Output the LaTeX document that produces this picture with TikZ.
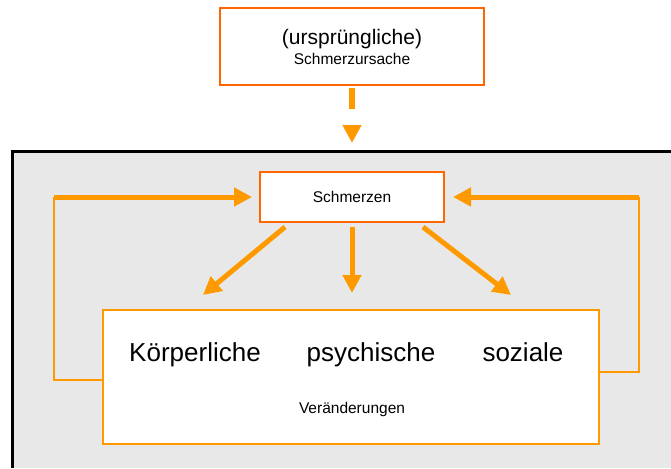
\documentclass[tikz,border=0pt]{standalone}
\usepackage{fontspec}
\setmainfont{Liberation Sans}
\usetikzlibrary{arrows.meta}

\definecolor{schmerzrot}{HTML}{FF6600}
\definecolor{pfeilorange}{HTML}{FF9900}
\definecolor{hgrau}{HTML}{E8E8E8}

\begin{document}
\begin{tikzpicture}[x=1pt,y=-1pt,
  % STYLES
  every node/.style={inner sep=0pt},
  % OWNs
  rbox/.style={rectangle,draw=schmerzrot,line width=2pt,fill=white},
  obox/.style={rectangle,draw=pfeilorange,line width=2pt,fill=white},
  pfeil/.style={-{Triangle[length=18pt,width=18pt]},draw=pfeilorange,line width=5pt},
  rueck/.style={draw=pfeilorange,line width=2.2pt},
  gross/.style={font=\fontsize{26}{31}\selectfont,anchor=base},
  mittel/.style={font=\fontsize{21}{25}\selectfont,anchor=base},
  klein/.style={font=\fontsize{15.5}{19}\selectfont,anchor=base}]

  \useasboundingbox (0,0) rectangle (671,468);
  % grey frame
  \fill[hgrau] (12,151) rectangle (671,468);
  \draw[line width=3pt] (12.5,468) -- (12.5,151.5) -- (671,151.5);

  \node[rbox, minimum width=264pt, minimum height=77pt] (ursache) at (352,46.5) {};
  	\node[mittel] (urspr) at (352,45) {(ursprüngliche)};
    \node[klein] (ursTxt) at (352,65) {Schmerzursache};

  \node[rbox, minimum width=184pt, minimum height=50pt,
    font=\fontsize{15.5}{19}\selectfont] (schmerz) at (352,197) {Schmerzen};

  \node[obox, minimum width=496pt, minimum height=134pt] (veraend) at (351,377) {};
    \node[gross] (koerper) at (195,361) {Körperliche};
    \node[gross] (psych) at (371,361) {psychische};
    \node[gross] (sozial) at (523,361) {soziale};
    \node[klein] (vTxt) at (352,413) {Veränderungen};

  \coordinate (ziel) at (352,143);
  \coordinate (zl) at (203,295);
  \coordinate (zm) at (352,293);
  \coordinate (zr) at (511,295);
  \coordinate (lo) at (54,380);
  \coordinate (lu) at (54,197);
  \coordinate (ro) at (639,372);
  \coordinate (ru) at (639,197);

  \draw[pfeil, line width=6pt, dash pattern=on 21pt off 60pt]
    ([yshift=-2pt]ursache.south) -- (ziel);

  \draw[pfeil] ([xshift=-67pt,yshift=-4pt]schmerz.south) -- (zl);
  \draw[pfeil] ([yshift=-4pt]schmerz.south) -- (zm);
  \draw[pfeil] ([xshift=71pt,yshift=-4pt]schmerz.south) -- (zr);

  \draw[rueck] ([yshift=-3pt]veraend.west) -- (lo) -- (lu);
  \draw[rueck] ([yshift=5pt]veraend.east) -- (ro) -- (ru);
  \draw[pfeil, shorten >=7pt] (lu) -- (schmerz.west);
  \draw[pfeil, shorten >=8pt] (ru) -- (schmerz.east);
\end{tikzpicture}
\end{document}
